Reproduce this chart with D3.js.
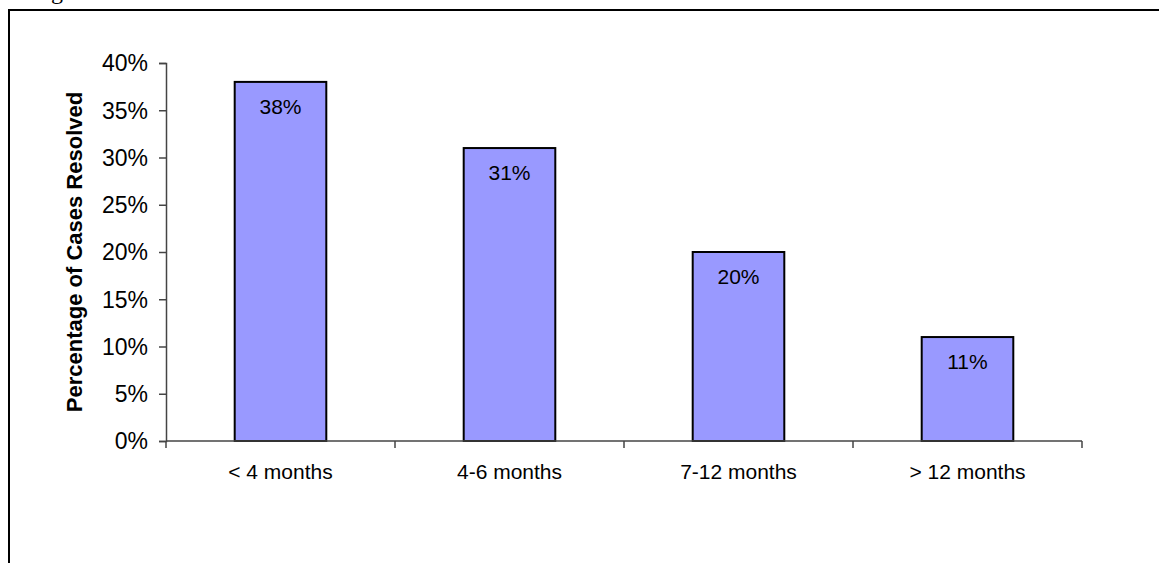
<!DOCTYPE html>
<html><head><meta charset="utf-8">
<script src="https://cdn.jsdelivr.net/npm/d3@7"></script>
<style>body{margin:0;background:#fff}svg{display:block}</style>
</head><body>
<svg id="c" width="1159" height="563"></svg>
<script>
const categories = ["< 4 months", "4-6 months", "7-12 months", "> 12 months"];
const values = [0.38, 0.31, 0.20, 0.11];
const valueLabels = ["38%", "31%", "20%", "11%"];
const yTicks = [0, 0.05, 0.10, 0.15, 0.20, 0.25, 0.30, 0.35, 0.40];
const yTitle = "Percentage of Cases Resolved";
const headerText = "Figure";

const svg = d3.select("#c");
const font = "'Liberation Sans', Arial, sans-serif";

// frame
svg.append("path").attr("d","M9,563 V10 H1159").attr("fill","none").attr("stroke","#000").attr("stroke-width",2);
// cut-off header text
svg.append("text").attr("x",31).attr("y",-1.5).attr("font-family","'Liberation Serif', 'Times New Roman', serif")
  .attr("font-size",24).text(headerText);

const x = d3.scaleBand().domain(categories).range([166,1082]).padding(0);
const y = d3.scaleLinear().domain([0,0.40]).range([441,63]);

const g = svg.append("g");
// bars
g.selectAll("rect.bar").data(values).join("rect")
  .attr("x",(d,i)=>x(categories[i])+x.bandwidth()*0.3)
  .attr("width",x.bandwidth()*0.4)
  .attr("y",d=>y(d)).attr("height",d=>y(0)-y(d))
  .attr("fill","#9999FF").attr("stroke","#000").attr("stroke-width",2);
// value labels
g.selectAll("text.val").data(values).join("text")
  .attr("x",(d,i)=>x(categories[i])+x.bandwidth()/2)
  .attr("y",d=>y(d)+32).attr("text-anchor","middle")
  .attr("font-family",font).attr("font-size",21).attr("fill","#000")
  .text((d,i)=>valueLabels[i]);

// y axis
const yAxis = d3.axisLeft(y).tickValues(yTicks).tickFormat(d3.format(".0%")).tickSize(7).tickPadding(11);
const ya = svg.append("g").attr("transform","translate(166,0)").call(yAxis);
ya.select(".domain").attr("stroke","#444").attr("stroke-width",1.5);
ya.selectAll(".tick line").attr("stroke","#444").attr("stroke-width",1.5);
ya.selectAll(".tick text").attr("font-family",font).attr("font-size",23).attr("fill","#000").attr("dy","0.34em");

// x axis
const xa = svg.append("g").attr("transform","translate(0,441)");
xa.append("line").attr("x1",166).attr("x2",1082).attr("y1",0).attr("y2",0).attr("stroke","#444").attr("stroke-width",1.5);
const bounds = categories.map(c=>x(c)).concat([x(categories[categories.length-1])+x.bandwidth()]);
xa.selectAll("line.t").data(bounds).join("line").attr("class","t")
  .attr("x1",d=>d).attr("x2",d=>d).attr("y1",0).attr("y2",7).attr("stroke","#444").attr("stroke-width",1.5);
xa.selectAll("text").data(categories).join("text")
  .attr("x",d=>x(d)+x.bandwidth()/2).attr("y",38).attr("text-anchor","middle")
  .attr("font-family",font).attr("font-size",21).attr("fill","#000").text(d=>d);

// y title
svg.append("text").attr("transform","translate(82,252) rotate(-90)")
  .attr("text-anchor","middle").attr("font-family",font).attr("font-weight","bold")
  .attr("font-size",22).attr("fill","#000").text(yTitle);
</script>
</body></html>
